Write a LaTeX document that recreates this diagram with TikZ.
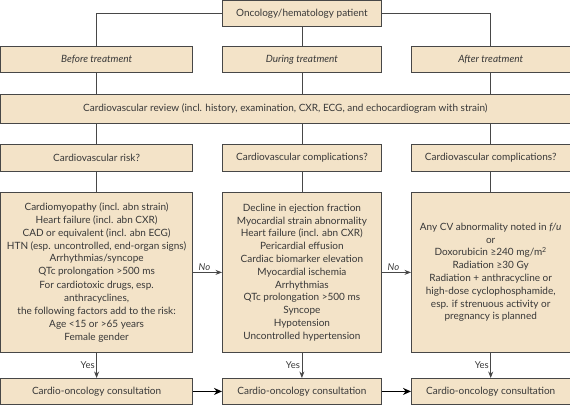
\documentclass[tikz,border=0pt]{standalone}
\usepackage{fontspec}
\setmainfont{Lato}
\usetikzlibrary{arrows.meta}
\definecolor{boxfill}{HTML}{F3E3C8}
\definecolor{boxline}{HTML}{474747}
\definecolor{txt}{HTML}{383838}
\tikzset{
  box/.style={draw=boxline, fill=boxfill, line width=0.8pt, inner sep=0pt, align=center, text=txt,
    font=\fontsize{10}{12.8}\selectfont, anchor=north west},
  conn/.style={draw=boxline, line width=0.8pt},
  thinarrow/.style={conn, -{Stealth[length=6.5pt,width=5pt]}},
  thickarrow/.style={draw=black, line width=1.3pt, -{Stealth[length=8pt,width=7pt]}},
  lbl/.style={font=\fontsize{9.5}{11}\selectfont, text=txt, inner sep=1.5pt},
  nolbl/.style={lbl, font=\fontsize{9.5}{11}\selectfont\itshape},
}
\begin{document}
\begin{tikzpicture}[x=1pt,y=-1pt]
\useasboundingbox (0,0) rectangle (570,405);
% top
\node[box, minimum width=159pt, minimum height=26pt] (top) at (222,0.4) {Oncology/hematology patient};
% phases
\node[box, minimum width=191.6pt, minimum height=26pt] (p1) at (0.4,46) {\itshape Before treatment};
\node[box, minimum width=159pt, minimum height=26pt] (p2) at (222,46) {\itshape During treatment};
\node[box, minimum width=158.6pt, minimum height=26pt] (p3) at (411,46) {\itshape After treatment};
% review
\node[box, minimum width=569.2pt, minimum height=29pt] (rev) at (0.4,94) {Cardiovascular review (incl. history, examination, CXR, ECG, and echocardiogram with strain)};
% questions
\node[box, minimum width=191.6pt, minimum height=27pt] (q1) at (0.4,144) {Cardiovascular risk?};
\node[box, minimum width=159pt, minimum height=27pt] (q2) at (222,144) {Cardiovascular complications?};
\node[box, minimum width=158.6pt, minimum height=27pt] (q3) at (411,144) {Cardiovascular complications?};
% lower boxes
\node[box, minimum width=191.6pt, minimum height=160pt] (l1) at (0.4,192) {Cardiomyopathy (incl. abn strain)\\
Heart failure (incl. abn CXR)\\
CAD or equivalent (incl. abn ECG)\\
HTN (esp. uncontrolled, end-organ signs)\\
Arrhythmias/syncope\\
QTc prolongation >500 ms\\[1.5pt]
For cardiotoxic drugs, esp.\\
anthracyclines,\\
the following factors add to the risk:\\
Age <15 or >65 years\\
Female gender};
\node[box, minimum width=159pt, minimum height=160pt] (l2) at (222,192) {Decline in ejection fraction\\
Myocardial strain abnormality\\
Heart failure (incl. abn CXR)\\
Pericardial effusion\\
Cardiac biomarker elevation\\
Myocardial ischemia\\
Arrhythmias\\
QTc prolongation >500 ms\\
Syncope\\
Hypotension\\
Uncontrolled hypertension};
\node[box, minimum width=158.6pt, minimum height=160pt] (l3) at (411,192) {Any CV abnormality noted in \textit{f/u}\\
or\\
Doxorubicin ≥240 mg/m\textsuperscript{2}\\
Radiation ≥30 Gy\\
Radiation + anthracycline or\\
high-dose cyclophosphamide,\\
esp. if strenuous activity or\\
pregnancy is planned};
% consult
\node[box, minimum width=191.6pt, minimum height=26pt] (c1) at (0.4,378) {Cardio-oncology consultation};
\node[box, minimum width=159pt, minimum height=26pt] (c2) at (222,378) {Cardio-oncology consultation};
\node[box, minimum width=158.6pt, minimum height=26pt] (c3) at (411,378) {Cardio-oncology consultation};
% connectors
\draw[conn] (top.west) -| (p1.north);
\draw[conn] (top.east) -| (p3.north);
\draw[conn] (top.south) -- (p2.north);
\draw[conn] (p1.south) -- (p1.south |- rev.north);
\draw[conn] (p2.south) -- (p2.south |- rev.north);
\draw[conn] (p3.south) -- (p3.south |- rev.north);
\draw[conn] (q1.north |- rev.south) -- (q1.north);
\draw[conn] (q2.north |- rev.south) -- (q2.north);
\draw[conn] (q3.north |- rev.south) -- (q3.north);
\draw[conn] (q1.south) -- (l1.north);
\draw[conn] (q2.south) -- (l2.north);
\draw[conn] (q3.south) -- (l3.north);
\draw[thinarrow] (l1.east) -- node[nolbl, above, pos=0.4] {No} (l2.west);
\draw[thinarrow] (l2.east) -- node[nolbl, above, pos=0.4] {No} (l3.west);
\draw[thinarrow] (l1.south) -- node[lbl, left] {Yes} (c1.north);
\draw[thinarrow] (l2.south) -- node[lbl, left] {Yes} (c2.north);
\draw[thinarrow] (l3.south) -- node[lbl, left] {Yes} (c3.north);
\draw[thickarrow] (c1.east) -- (c2.west);
\draw[thickarrow] (c2.east) -- (c3.west);
\end{tikzpicture}
\end{document}
